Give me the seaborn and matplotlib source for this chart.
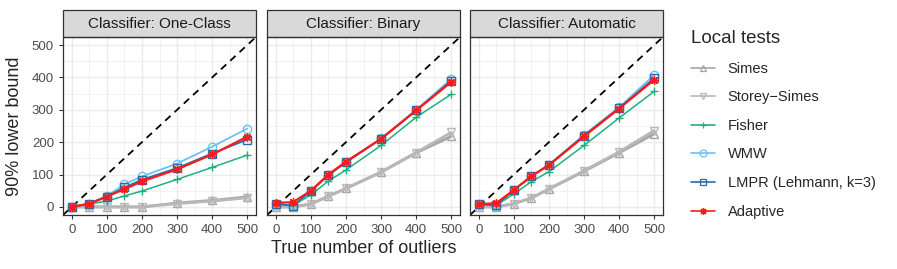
import pandas as pd
import matplotlib.pyplot as plt
import seaborn as sns
from matplotlib.patches import Rectangle
from matplotlib.lines import Line2D

sns.set_theme(style="white")
plt.rcParams['font.family'] = ['Liberation Sans', 'DejaVu Sans']

# data
n_outliers = [0, 50, 100, 150, 200, 300, 400, 500]
classifiers = ["One-Class", "Binary", "Automatic"]
methods = ["Simes", "Storey\u2212Simes", "Fisher", "WMW", "LMPR (Lehmann, k=3)", "Adaptive"]

one_class = {
    "Simes":                [0, 0, 0, 0, 0, 12, 20, 31],
    "Storey\u2212Simes":    [0, 0, 0, 0, 0, 10, 18, 28],
    "Fisher":               [0, 9, 18, 34, 49, 85, 122, 160],
    "WMW":                  [0, 10, 34, 70, 94, 134, 186, 242],
    "LMPR (Lehmann, k=3)":  [0, 10, 32, 60, 84, 120, 165, 208],
    "Adaptive":             [0, 10, 32, 55, 79, 116, 162, 217],
}
binary = {
    "Simes":                [0, 0, 9, 33, 57, 107, 167, 218],
    "Storey\u2212Simes":    [0, 0, 9, 33, 57, 108, 168, 230],
    "Fisher":               [8, 5, 37, 80, 114, 190, 277, 348],
    "WMW":                  [10, 2, 48, 98, 138, 212, 300, 395],
    "LMPR (Lehmann, k=3)":  [10, 3, 50, 98, 138, 210, 298, 390],
    "Adaptive":             [12, 15, 50, 100, 140, 210, 298, 386],
}
automatic = {
    "Simes":                [0, 0, 10, 27, 55, 110, 167, 226],
    "Storey\u2212Simes":    [0, 0, 10, 28, 56, 112, 170, 236],
    "Fisher":               [6, 5, 40, 78, 109, 190, 275, 357],
    "WMW":                  [8, 4, 52, 95, 130, 223, 308, 408],
    "LMPR (Lehmann, k=3)":  [8, 5, 52, 95, 130, 220, 305, 398],
    "Adaptive":             [8, 12, 52, 95, 129, 218, 304, 393],
}
results = {"One-Class": one_class, "Binary": binary, "Automatic": automatic}

colors = {"Simes": "#A6A6A6", "Storey\u2212Simes": "#B8B8B8", "Fisher": "#1FB07F",
          "WMW": "#6EC1EE", "LMPR (Lehmann, k=3)": "#1F6FB0", "Adaptive": "#FF1A1A"}
markers = {"Simes": "^", "Storey\u2212Simes": "v", "Fisher": "+", "WMW": "o",
           "LMPR (Lehmann, k=3)": "s", "Adaptive": (8, 2, 0)}
widths = {"Simes": 2.0, "Storey\u2212Simes": 2.0, "Fisher": 1.1, "WMW": 1.3,
          "LMPR (Lehmann, k=3)": 1.3, "Adaptive": 1.6}

rows = []
for clf in classifiers:
    for m in methods:
        for x, y in zip(n_outliers, results[clf][m]):
            rows.append({"classifier": clf, "method": m, "n": x, "bound": y})
df = pd.DataFrame(rows)

fig = plt.figure(figsize=(8.97, 2.69), dpi=100)
W, H = 897, 269
lefts = [63, 267, 470]
pw = 193
top, bot = 37, 215
strip_h = 27

for i, clf in enumerate(classifiers):
    ax = fig.add_axes([lefts[i] / W, (H - bot) / H, pw / W, (bot - top) / H])
    sub = df[df["classifier"] == clf]
    for x in range(0, 501, 50):
        ax.axvline(x, color="#EBEBEB", lw=1.0 if x % 100 == 0 else 0.5, zorder=0)
    for y in range(0, 501, 50):
        ax.axhline(y, color="#EBEBEB", lw=1.0 if y % 100 == 0 else 0.5, zorder=0)
    ax.axline((0, 0), slope=1, color="black", ls=(0, (4, 3)), lw=1.3, zorder=1)
    for m in methods:
        d = sub[sub["method"] == m]
        sns.lineplot(data=d, x="n", y="bound", ax=ax, color=colors[m], marker=markers[m],
                     lw=widths[m], ms=6, mec=colors[m], mfc="none", mew=1.0, zorder=2)
    ax.set_xlim(-25, 525)
    ax.set_ylim(-25, 525)
    ax.set_xticks(range(0, 501, 100))
    ax.set_yticks(range(0, 501, 100))
    ax.set_xlabel("")
    ax.set_ylabel("")
    ax.tick_params(axis="both", length=3, width=0.8, color="#333333", labelsize=9.5,
                   labelcolor="#4D4D4D", pad=3.5, bottom=True, left=(i == 0))
    if i > 0:
        ax.set_yticklabels([])
        ax.tick_params(left=False)
    for s in ax.spines.values():
        s.set_color("#333333")
        s.set_linewidth(0.9)
    ax.add_patch(Rectangle((0, 1), 1, strip_h / (bot - top), transform=ax.transAxes,
                           clip_on=False, fc="#D9D9D9", ec="#333333", lw=0.9))
    ax.text(0.5, 1 + strip_h / (bot - top) / 2, f"Classifier: {clf}", transform=ax.transAxes,
            ha="center", va="center", fontsize=11, color="#1A1A1A")
    if i == 0:
        ax.set_ylabel("90% lower bound", fontsize=13, labelpad=6)
    if i == 1:
        ax.set_xlabel("True number of outliers", fontsize=13, labelpad=3)

handles = [Line2D([], [], color=colors[m], marker=markers[m], lw=1.2, ms=5,
                  mec=colors[m], mfc="none", mew=0.9) for m in methods]
leg = fig.legend(handles, methods, title="Local tests", loc="upper left",
                 bbox_to_anchor=(678 / W, 1 - 17 / H), frameon=False, fontsize=10.5,
                 title_fontsize=13.5, handlelength=1.65, labelspacing=1.0, handletextpad=0.85)
leg._legend_box.align = "left"

fig.savefig("out.png", dpi=100)
